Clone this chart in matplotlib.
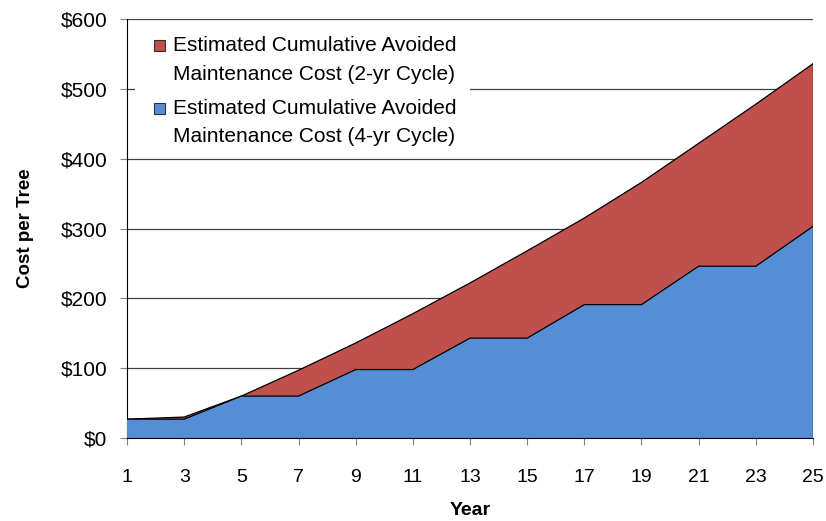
import matplotlib.pyplot as plt
from matplotlib.patches import Rectangle

plt.rcParams.update({"font.family": ["Liberation Sans", "DejaVu Sans"]})

years = [1, 3, 5, 7, 9, 11, 13, 15, 17, 19, 21, 23, 25]
cost_2yr = [27, 30, 60, 97, 136, 178, 222, 268, 315, 366, 422, 478, 536]
cost_4yr = [27, 27, 60, 60, 98, 98, 143, 143, 191, 191, 246, 246, 303]
yticks = [0, 100, 200, 300, 400, 500, 600]
series_names = [("Estimated Cumulative Avoided", "Maintenance Cost (2-yr Cycle)"),
                ("Estimated Cumulative Avoided", "Maintenance Cost (4-yr Cycle)")]

red = "#C0504D"
blue = "#558ED5"
narrow = ["Liberation Sans Narrow", "Liberation Sans"]

W, H = 826, 521
fig = plt.figure(figsize=(W / 100, H / 100), dpi=100)
ax = fig.add_axes([127 / W, (H - 438) / H, 686 / W, 419 / H])

ax.fill_between(years, cost_2yr, 0, facecolor=red, edgecolor="none", zorder=2)
ax.plot(years, cost_2yr, color="black", lw=0.9, zorder=3)
ax.fill_between(years, cost_4yr, 0, facecolor=blue, edgecolor="none", zorder=4)
ax.plot(years, cost_4yr, color="black", lw=0.9, zorder=5)
ax.plot([years[-1], years[-1]], [0, cost_2yr[-1]], color="black", lw=0.9, zorder=5)

ax.set_xlim(years[0], years[-1])
ax.set_ylim(0, 600)
ax.set_xticks(years)
ax.set_xticklabels([str(y) for y in years], family=narrow, fontsize=14)
ax.set_yticks(yticks)
ax.set_yticklabels([f"${v}" for v in yticks], fontsize=15)
ax.tick_params(axis="x", length=5, width=0.8, color="#808080", pad=17)
ax.tick_params(axis="y", length=5, width=0.8, color="#808080", pad=9)

ax.yaxis.grid(True, color="#404040", lw=0.9)
ax.set_axisbelow(True)
for s in ["top", "right"]:
    ax.spines[s].set_visible(False)
ax.spines["bottom"].set_zorder(6)

ax.set_xlabel("Year", fontsize=14, fontweight="bold", family=narrow, labelpad=12)
ax.set_ylabel("Cost per Tree", fontsize=13.5, fontweight="bold", labelpad=19)

# legend drawn by hand so the swatch sits on the first text line
def px(x, y):
    return (x - 127) / 686, (438 - y) / 419

bx0, by0 = px(135, 150)
bx1, by1 = px(470, 28)
ax.add_patch(Rectangle((bx0, by0), bx1 - bx0, by1 - by0, transform=ax.transAxes,
                       facecolor="white", edgecolor="none", zorder=7))
for (first, second), color, ytop in zip(series_names, [red, blue], [45.5, 108]):
    sx, sy = px(154, ytop + 5.5)
    sw, sh = 11 / 686, 11 / 419
    ax.add_patch(Rectangle((sx, sy), sw, sh, transform=ax.transAxes,
                           facecolor=color, edgecolor="#303030", lw=0.8, zorder=8))
    for k, line in enumerate([first, second]):
        tx, ty = px(173, ytop + k * 28.5)
        ax.text(tx, ty, line, transform=ax.transAxes, fontsize=15,
                ha="left", va="center", zorder=8)

fig.savefig("out.png", dpi=100)
